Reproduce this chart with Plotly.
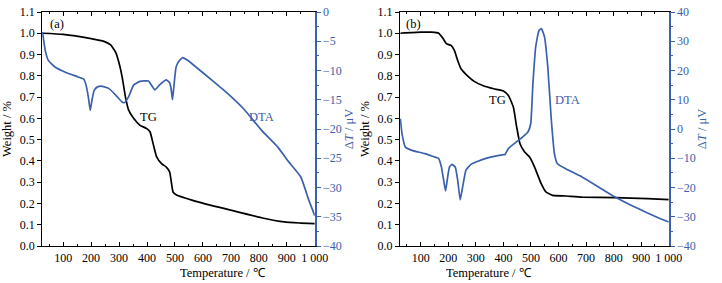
import plotly.graph_objects as go

BLUE = "#3a60ae"

# Panel (a)
tg_a_x = [25, 100, 200, 246, 270, 288, 300, 311, 323, 334, 352, 375, 399, 411, 422, 434, 452, 469, 481, 487, 493, 504, 575, 692, 809, 891, 950, 1000]
tg_a_y = [1.0, 0.995, 0.975, 0.962, 0.945, 0.91, 0.86, 0.795, 0.70, 0.64, 0.60, 0.567, 0.552, 0.536, 0.48, 0.42, 0.387, 0.371, 0.348, 0.30, 0.254, 0.241, 0.21, 0.171, 0.133, 0.113, 0.108, 0.105]
dta_a_x = [26, 36, 47, 71, 106, 153, 174, 182, 190, 197, 203, 211, 223, 240, 264, 288, 311, 319, 334, 352, 375, 405, 428, 446, 469, 481, 487, 491, 496, 504, 516, 528, 545, 575, 633, 692, 750, 809, 868, 903, 950, 979, 1000]
dta_a_y = [-3.4, -6.55, -8.26, -9.4, -10.26, -11.1, -11.5, -12.5, -14.5, -16.8, -15.1, -13.4, -12.8, -12.7, -13.1, -14.2, -15.4, -15.5, -14.5, -12.5, -11.85, -11.8, -13.3, -12.4, -11.6, -12.1, -13.4, -15.0, -12.8, -9.4, -8.3, -7.8, -8.26, -9.4, -11.7, -14.1, -16.8, -20.2, -23.1, -25.4, -28.2, -32.2, -34.8]

# Panel (b)
tg_b_x = [26, 100, 139, 165, 181, 193, 210, 222, 234, 246, 264, 294, 329, 365, 400, 418, 436, 448, 460, 477, 495, 513, 537, 554, 578, 626, 685, 804, 923, 1000]
tg_b_y = [1.0, 1.005, 1.005, 1.0, 0.975, 0.951, 0.943, 0.92, 0.872, 0.833, 0.807, 0.774, 0.752, 0.739, 0.729, 0.708, 0.653, 0.56, 0.481, 0.442, 0.418, 0.371, 0.293, 0.254, 0.238, 0.235, 0.23, 0.227, 0.223, 0.218]
dta_b_x = [26, 32, 44, 68, 115, 157, 165, 175, 184, 190, 196, 204, 213, 225, 234, 243, 252, 264, 282, 305, 353, 400, 406, 418, 442, 466, 489, 499, 507, 517, 529, 538, 549, 561, 573, 585, 596, 626, 685, 745, 804, 863, 923, 970, 1000]
dta_b_y = [3.5, -1.6, -6.2, -7.3, -8.4, -9.8, -10.1, -13.0, -18.1, -21.2, -17.5, -13.0, -12.1, -13.0, -17.5, -24.2, -19.8, -14.1, -12.1, -11.1, -9.6, -8.8, -8.7, -6.7, -4.8, -3.0, -1.0, 1.8, 15.5, 28.0, 33.7, 34.3, 31.5, 21.2, 4.1, -8.4, -11.9, -13.6, -16.4, -19.8, -23.2, -26.1, -28.7, -30.7, -31.8]

x_tickvals = [100, 200, 300, 400, 500, 600, 700, 800, 900, 1000]
x_ticktext = ["100", "200", "300", "400", "500", "600", "700", "800", "900", "1 000"]
w_tickvals = [0.0, 0.1, 0.2, 0.3, 0.4, 0.5, 0.6, 0.7, 0.8, 0.9, 1.0, 1.1]
w_ticktext = ["0.0", "0.1", "0.2", "0.3", "0.4", "0.5", "0.6", "0.7", "0.8", "0.9", "1.0", "1.1"]

FAM = "Liberation Serif"
FONT = dict(family=FAM, size=12, color="black")
BFONT = dict(family=FAM, size=12, color=BLUE)
LFONT = dict(family=FAM, size=12.5, color="black")
LBFONT = dict(family=FAM, size=12.5, color=BLUE)

fig = go.Figure()
fig.add_trace(go.Scatter(x=tg_a_x, y=tg_a_y, mode="lines", line=dict(color="black", width=1.7, shape="spline", smoothing=0.4), xaxis="x", yaxis="y", showlegend=False))
fig.add_trace(go.Scatter(x=dta_a_x, y=dta_a_y, mode="lines", line=dict(color=BLUE, width=1.7, shape="spline", smoothing=0.4), xaxis="x", yaxis="y2", showlegend=False))
fig.add_trace(go.Scatter(x=tg_b_x, y=tg_b_y, mode="lines", line=dict(color="black", width=1.7, shape="spline", smoothing=0.4), xaxis="x2", yaxis="y3", showlegend=False))
fig.add_trace(go.Scatter(x=dta_b_x, y=dta_b_y, mode="lines", line=dict(color=BLUE, width=1.7, shape="spline", smoothing=0.4), xaxis="x2", yaxis="y4", showlegend=False))

def xax(domain, anchor):
    return dict(domain=domain, anchor=anchor, range=[25, 1000], tickvals=x_tickvals, ticktext=x_ticktext,
                ticks="inside", ticklen=4, tickwidth=1, tickcolor="black", showline=True, linecolor="black", linewidth=1.2,
                mirror="ticks", showgrid=False, zeroline=False, tickfont=FONT,
                minor=dict(tickvals=[50, 150, 250, 350, 450, 550, 650, 750, 850, 950], ticks="inside", ticklen=2, tickcolor="black"))

def yleft(anchor):
    return dict(domain=[0, 1], anchor=anchor, range=[0, 1.1], tickvals=w_tickvals, ticktext=w_ticktext,
                ticks="outside", ticklen=4, tickcolor="black", showline=True, linecolor="black", linewidth=1.2,
                showgrid=False, zeroline=False, tickfont=FONT,
                title=dict(text="Weight / %", font=LFONT, standoff=5))

def yright(anchor, overlay, rng, dtick, minor_dtick):
    return dict(anchor=anchor, overlaying=overlay, side="right", range=rng, dtick=dtick, tick0=0,
                ticks="outside", ticklen=4, tickcolor=BLUE, showline=True, linecolor=BLUE, linewidth=1.5,
                showgrid=False, zeroline=False, tickfont=BFONT,
                minor=dict(dtick=minor_dtick, ticks="outside", ticklen=2, tickcolor=BLUE),
                title=dict(text="Δ<i>T</i> / μV", font=LBFONT, standoff=3))

xa_dom = [43 / 722, 321 / 722]
xb_dom = [408 / 722, 682 / 722]

fig.update_layout(
    width=722, height=283,
    margin=dict(l=0, r=0, t=12, b=37),
    paper_bgcolor="white", plot_bgcolor="white",
    xaxis=xax(xa_dom, "y"),
    yaxis=yleft("x"),
    yaxis2=yright("x", "y", [-40, 0], 5, 2.5),
    xaxis2=xax(xb_dom, "y3"),
    yaxis3=yleft("x2"),
    yaxis4=yright("x2", "y3", [-40, 40], 10, 5),
    annotations=[
        dict(x=sum(xa_dom) / 2, y=-27 / 234, xref="paper", yref="paper", text="Temperature / ℃", showarrow=False, font=LFONT, yanchor="middle"),
        dict(x=sum(xb_dom) / 2, y=-27 / 234, xref="paper", yref="paper", text="Temperature / ℃", showarrow=False, font=LFONT, yanchor="middle"),
        dict(x=77, y=1.045, xref="x", yref="y", text="(a)", showarrow=False, font=LFONT),
        dict(x=405, y=0.607, xref="x", yref="y", text="TG", showarrow=False, font=LFONT),
        dict(x=809, y=0.607, xref="x", yref="y", text="DTA", showarrow=False, font=LBFONT),
        dict(x=74, y=1.045, xref="x2", yref="y3", text="(b)", showarrow=False, font=LFONT),
        dict(x=377, y=0.685, xref="x2", yref="y3", text="TG", showarrow=False, font=LFONT),
        dict(x=632, y=0.685, xref="x2", yref="y3", text="DTA", showarrow=False, font=LBFONT),
    ],
)

fig.write_html("out.html", config={"displayModeBar": False},
               post_script="document.body.style.margin='0px';document.body.style.padding='0px';")
